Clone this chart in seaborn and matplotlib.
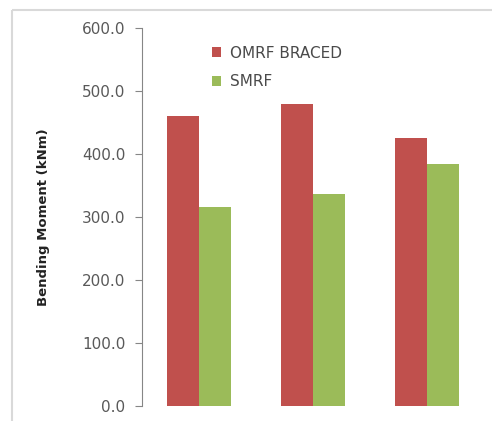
import matplotlib
matplotlib.use("Agg")
import matplotlib.pyplot as plt
import seaborn as sns
import pandas as pd
from matplotlib.lines import Line2D
from matplotlib.ticker import FormatStrFormatter

categories = ["Case 1", "Case 2", "Case 3"]
omrf_braced = [460, 479, 425]
smrf = [316, 336, 384]
series_names = ["OMRF BRACED", "SMRF"]
colors = ["#C0504D", "#9BBB59"]

df = pd.DataFrame({
    "category": categories * 2,
    "value": omrf_braced + smrf,
    "series": [series_names[0]] * 3 + [series_names[1]] * 3,
})

sns.set_style("white")
plt.rcParams["font.family"] = ["DejaVu Sans"]

W, H = 493, 421
fig = plt.figure(figsize=(W / 100, H / 100), dpi=100)
ax = fig.add_axes([142 / W, 1 - 406 / H, 342 / W, (406 - 27.7) / H])

sns.barplot(data=df, x="category", y="value", hue="series",
            palette=colors, width=0.56, saturation=1, ax=ax, linewidth=0)

ax.set_ylim(0, 600)
ax.set_xlim(-0.5, 2.5)
ax.set_yticks([0, 100, 200, 300, 400, 500, 600])
ax.yaxis.set_major_formatter(FormatStrFormatter("%.1f"))
ax.tick_params(axis="y", left=True, length=5, width=0.8, color="#868686",
               labelsize=11, labelcolor="#595959", pad=7)
ax.set_xticks([])
ax.set_xlabel("")
ax.set_ylabel("Bending Moment (kNm)", fontsize=9.5, fontweight="bold", color="#222222")
ax.yaxis.set_label_coords(-0.27, 0.5)

for s in ["top", "right", "bottom"]:
    ax.spines[s].set_visible(False)
ax.spines["left"].set_color("#868686")
ax.spines["left"].set_linewidth(0.8)

leg = ax.legend(loc="upper left", bbox_to_anchor=(204 / W, 1 - 38 / H),
                bbox_transform=fig.transFigure, frameon=False,
                fontsize=11, handlelength=0.6, handleheight=0.6,
                handletextpad=0.6, labelspacing=0.9, borderpad=0)
for t in leg.get_texts():
    t.set_color("#4A4A4A")

top_y = 1 - 10 / H
left_x = 12 / W
fig.add_artist(Line2D([left_x, 0.998], [top_y, top_y], transform=fig.transFigure,
                      color="#D9D9D9", linewidth=1.5, solid_capstyle="butt"))
fig.add_artist(Line2D([left_x, left_x], [0.0, top_y], transform=fig.transFigure,
                      color="#D9D9D9", linewidth=1.5, solid_capstyle="butt"))

fig.savefig("out.png", dpi=100)
